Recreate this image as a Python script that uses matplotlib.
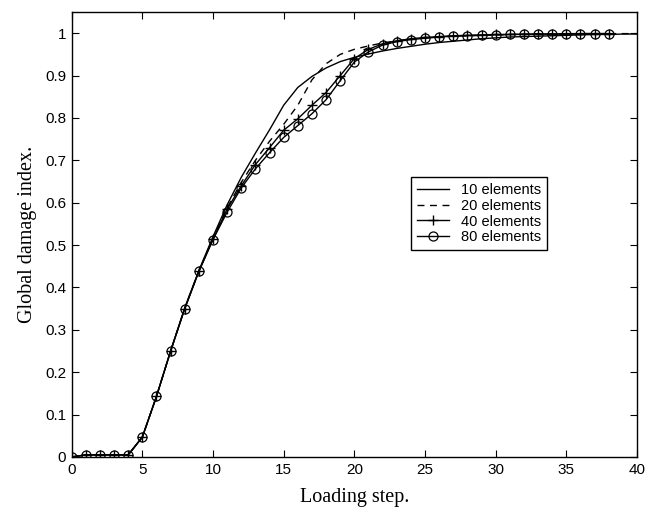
import numpy as np
import matplotlib.pyplot as plt

steps = list(range(0, 41))
steps_fine = list(range(0, 39))

# 10 elements (solid)
d10 = [0, 0.005, 0.005, 0.005, 0.005, 0.047, 0.143, 0.25, 0.352, 0.44, 0.52,
       0.595, 0.66, 0.717, 0.772, 0.83, 0.872, 0.898, 0.918, 0.933, 0.943,
       0.951, 0.958, 0.964, 0.969, 0.974, 0.978, 0.981, 0.984, 0.987, 0.989,
       0.991, 0.992, 0.993, 0.994, 0.995, 0.996, 0.997, 0.997, 0.998, 0.998]
# 20 elements (dashed)
d20 = [0, 0.005, 0.005, 0.005, 0.005, 0.047, 0.143, 0.25, 0.351, 0.439, 0.516,
       0.588, 0.648, 0.7, 0.745, 0.785, 0.83, 0.89, 0.928, 0.95, 0.962,
       0.97, 0.977, 0.982, 0.986, 0.989, 0.991, 0.993, 0.994, 0.995, 0.996,
       0.997, 0.997, 0.998, 0.998, 0.998, 0.999, 0.999, 0.999, 0.999, 0.999]
# 40 elements (+)
d40 = [0, 0.005, 0.005, 0.005, 0.005, 0.047, 0.143, 0.25, 0.35, 0.438, 0.514,
       0.585, 0.64, 0.69, 0.73, 0.771, 0.798, 0.83, 0.86, 0.9, 0.94,
       0.962, 0.975, 0.982, 0.987, 0.99, 0.992, 0.994, 0.995, 0.996, 0.997,
       0.997, 0.998, 0.998, 0.998, 0.999, 0.999, 0.999, 0.999]
# 80 elements (o)
d80 = [0, 0.005, 0.005, 0.005, 0.005, 0.047, 0.143, 0.25, 0.35, 0.438, 0.513,
       0.578, 0.635, 0.68, 0.718, 0.754, 0.782, 0.81, 0.843, 0.888, 0.932,
       0.956, 0.972, 0.98, 0.985, 0.988, 0.991, 0.993, 0.994, 0.995, 0.996,
       0.997, 0.997, 0.998, 0.998, 0.998, 0.999, 0.999, 0.999]

plt.rcParams['font.family'] = ['Liberation Sans', 'DejaVu Sans']

fig = plt.figure(figsize=(6.54, 5.11), dpi=100)
ax = fig.add_axes([0.1096, 0.1057, 0.8644, 0.8708])

ax.plot(steps, d10, '-', color='black', lw=1.0, label='10 elements')
ax.plot(steps, d20, '--', color='black', lw=1.0, dashes=(5, 4), label='20 elements')
ax.plot(steps_fine, d40, '-+', color='black', lw=1.0, ms=7, mew=1.0, label='40 elements')
ax.plot(steps_fine, d80, '-o', color='black', lw=1.0, ms=6.5, mew=0.9,
        mfc='none', label='80 elements')

ax.set_xlim(0, 40)
ax.set_ylim(0, 1.05)
ax.set_xticks(range(0, 41, 5))
ax.set_yticks(np.arange(0, 1.01, 0.1))
ax.set_yticklabels(['0', '0.1', '0.2', '0.3', '0.4', '0.5', '0.6', '0.7', '0.8', '0.9', '1'])
ax.tick_params(direction='in', top=True, right=True, labelsize=11, length=5, width=0.8, pad=4)
for s in ax.spines.values():
    s.set_linewidth(1.0)

ax.set_xlabel('Loading step.', family='Liberation Serif', fontsize=14.5, labelpad=8)
ax.set_ylabel('Global damage index.', family='Liberation Serif', fontsize=14.5, labelpad=6)

leg = ax.legend(loc='upper left', bbox_to_anchor=(0.588, 0.645), fontsize=10.5,
                frameon=True, fancybox=False, edgecolor='black', framealpha=1,
                handlelength=2.2, borderpad=0.4, labelspacing=0.12)
leg.get_frame().set_linewidth(1.0)

fig.savefig('out.png', dpi=100)
